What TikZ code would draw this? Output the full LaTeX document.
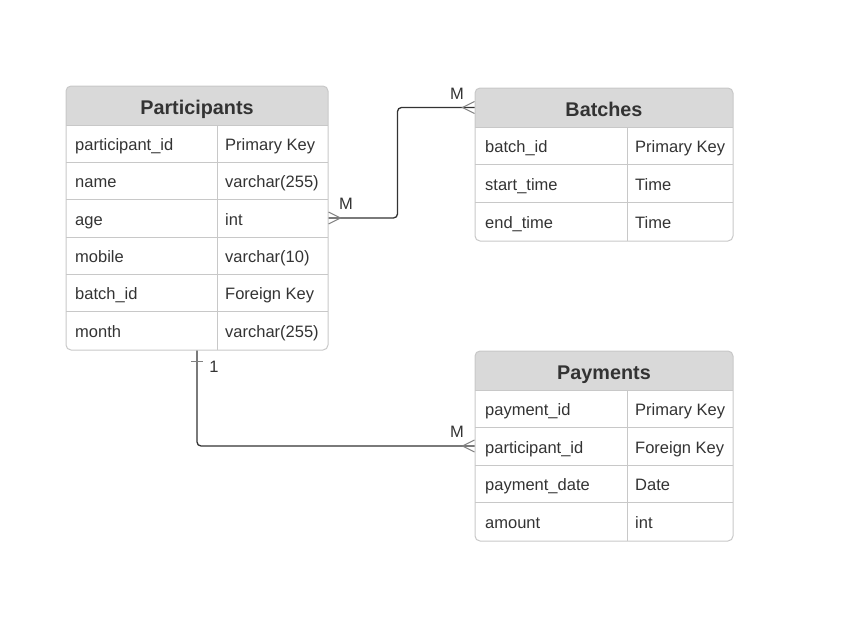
\documentclass[tikz,border=0pt]{standalone}
\usepackage{fontspec}
\setmainfont{Liberation Sans}
\usetikzlibrary{positioning}
\definecolor{erhead}{RGB}{217,217,217}
\definecolor{erline}{RGB}{200,200,200}
\definecolor{ertext}{RGB}{51,51,51}
\definecolor{erfoot}{RGB}{128,128,128}

\begin{document}
\begin{tikzpicture}[x=1pt, y=-1pt,
    table/.style={draw=erline, line width=1pt, rounded corners=5pt, inner sep=0pt},
    head/.style={fill=erhead, rounded corners=5pt, inner sep=0pt, text=ertext, text height=18pt, text depth=1pt, font=\fontsize{19.8}{23}\selectfont\bfseries},
    field/.style={anchor=west, inner sep=0pt, text=ertext, text height=15pt, text depth=1pt, font=\fontsize{16.5}{19}\selectfont},
    sep/.style={draw=erline, line width=1pt},
    conn/.style={draw=ertext, line width=1.3pt, rounded corners=4pt},
    foot/.style={draw=erfoot, line width=1pt},
    card/.style={text=ertext, inner sep=0pt, font=\fontsize{16.5}{19}\selectfont}
]
\useasboundingbox (0,0) rectangle (855,621);

% Participants table
\fill[erhead] (66,105.5) rectangle (328,125);
\node[head, minimum width=262, minimum height=39] (p-head) at (197,105.5) {Participants};
\node[table, minimum width=262, minimum height=264] (part) at (197,218) {};
\draw[sep] (66,125) -- (328,125);
\draw[sep] (66,162) -- (328,162);
\draw[sep] (66,199.5) -- (328,199.5);
\draw[sep] (66,237) -- (328,237);
\draw[sep] (66,274) -- (328,274);
\draw[sep] (66,311.5) -- (328,311.5);
\draw[sep] (217,125) -- (217,350);
\node[field] (p-id) at (75,143.5) {participant\_id};
\node[field] (p-id-t) at (225,143.5) {Primary Key};
\node[field] (p-name) at (75,180.5) {name};
\node[field] (p-name-t) at (225,180.5) {varchar(255)};
\node[field] (p-age) at (75,218) {age};
\node[field] (p-age-t) at (225,218) {int};
\node[field] (p-mob) at (75,255.5) {mobile};
\node[field] (p-mob-t) at (225,255.5) {varchar(10)};
\node[field] (p-bid) at (75,292.5) {batch\_id};
\node[field] (p-bid-t) at (225,292.5) {Foreign Key};
\node[field] (p-mon) at (75,330.5) {month};
\node[field] (p-mon-t) at (225,330.5) {varchar(255)};

% Batches table
\fill[erhead] (475,107.5) rectangle (733,127);
\node[head, minimum width=258, minimum height=39] (b-head) at (604,107.5) {Batches};
\node[table, minimum width=258, minimum height=153] (batch) at (604,164.5) {};
\draw[sep] (475,127) -- (733,127);
\draw[sep] (475,164.5) -- (733,164.5);
\draw[sep] (475,202) -- (733,202);
\draw[sep] (627,127) -- (627,241);
\node[field] (b-id) at (485,145.5) {batch\_id};
\node[field] (b-id-t) at (635,145.5) {Primary Key};
\node[field] (b-start) at (485,183) {start\_time};
\node[field] (b-start-t) at (635,183) {Time};
\node[field] (b-end) at (485,221) {end\_time};
\node[field] (b-end-t) at (635,221) {Time};

% Payments table
\fill[erhead] (475,370.5) rectangle (733,390);
\node[head, minimum width=258, minimum height=39] (y-head) at (604,370.5) {Payments};
\node[table, minimum width=258, minimum height=190] (pay) at (604,446) {};
\draw[sep] (475,390) -- (733,390);
\draw[sep] (475,427.5) -- (733,427.5);
\draw[sep] (475,465) -- (733,465);
\draw[sep] (475,502) -- (733,502);
\draw[sep] (627,390) -- (627,541);
\node[field] (y-id) at (485,408.5) {payment\_id};
\node[field] (y-id-t) at (635,408.5) {Primary Key};
\node[field] (y-pid) at (485,446) {participant\_id};
\node[field] (y-pid-t) at (635,446) {Foreign Key};
\node[field] (y-date) at (485,483.5) {payment\_date};
\node[field] (y-date-t) at (635,483.5) {Date};
\node[field] (y-amt) at (485,521) {amount};
\node[field] (y-amt-t) at (635,521) {int};

% Relations
\coordinate (p-out) at (part.east |- p-age.west);
\coordinate (b-in) at (batch.west |- b-head);
\coordinate (y-in) at (pay.west |- y-pid.west);
\draw[conn] (p-out) -- ++(69,0) |- (b-in);
\draw[conn] (part.south) |- (y-in);

% Cardinality marks
\draw[foot] ([yshift=6pt]p-out) -- ([xshift=12pt]p-out) -- ([yshift=-6pt]p-out);
\draw[foot] ([yshift=6pt]b-in) -- ([xshift=-12pt]b-in) -- ([yshift=-6pt]b-in);
\draw[foot] ([yshift=6pt]y-in) -- ([xshift=-12pt]y-in) -- ([yshift=-6pt]y-in);
\draw[foot] ([xshift=-6pt,yshift=-11pt]part.south) -- ([xshift=6pt,yshift=-11pt]part.south);
\node[card] (m-part) at (346,204) {M};
\node[card] (m-batch) at (457,94) {M};
\node[card] (one-part) at (214,367) {1};
\node[card] (m-pay) at (457,432) {M};
\end{tikzpicture}
\end{document}
